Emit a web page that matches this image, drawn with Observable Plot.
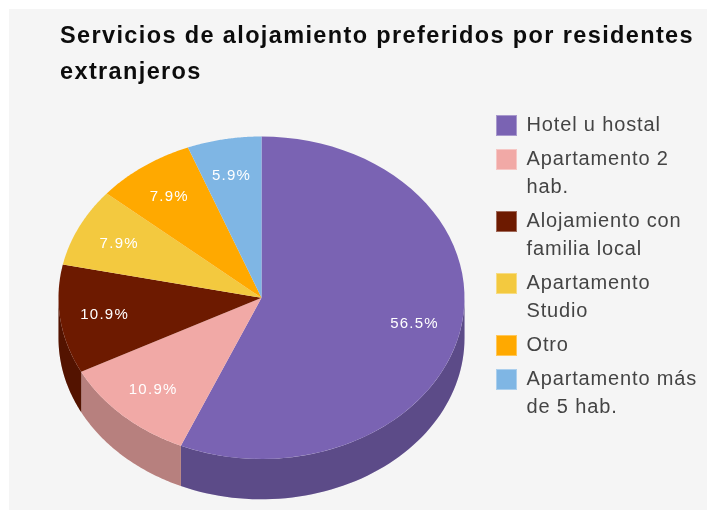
<!DOCTYPE html>
<html><head><meta charset="utf-8">
<script src="https://cdn.jsdelivr.net/npm/d3@7"></script>
<script src="https://cdn.jsdelivr.net/npm/@observablehq/plot@0.6"></script>
<style>
html,body{margin:0;padding:0;background:#fff;}
#wrap{position:relative;width:707px;height:510px;overflow:hidden;}
#panel{position:absolute;left:9px;top:9px;width:698px;height:501px;background:#f5f5f5;}
#chart{position:absolute;left:0;top:0;filter:blur(.35px);}
#chart svg{background:transparent;display:block;}
#chart text{letter-spacing:1.25px;font-weight:normal;}
#title{position:absolute;left:60px;top:17px;width:645px;font:bold 23.5px/36px "Liberation Sans",Arial,sans-serif;color:#0c0c0c;letter-spacing:1.37px;filter:blur(.5px);}
#legend{position:absolute;left:496px;top:110px;width:211px;font:20px/28px "Liberation Sans",Arial,sans-serif;color:#444;letter-spacing:.85px;filter:blur(.5px);}
.it{position:relative;padding-left:30.5px;margin-bottom:6px;}
.sw{position:absolute;left:0;top:5px;width:19px;height:19px;border:1px solid rgba(255,255,255,.35);}
</style></head><body>
<div id="wrap"><div id="panel"></div><div id="chart"></div><div id="title"></div><div id="legend"></div></div>
<script>
const title = "Servicios de alojamiento preferidos por residentes extranjeros";
const categories = ["Hotel u hostal","Apartamento 2 hab.","Alojamiento con familia local","Apartamento Studio","Otro","Apartamento más de 5 hab."];
const legendLabels = [["Hotel u hostal"],["Apartamento 2","hab."],["Alojamiento con","familia local"],["Apartamento","Studio"],["Otro"],["Apartamento más","de 5 hab."]];
const shares = [56.5,10.9,10.9,7.9,7.9,5.9];
const colors = ["#7a63b3","#f1a9a6","#6d1a00","#f3c93f","#ffa900","#7fb6e4"];

const depth = 0.25;          // extrusion in units of the vertical radius
const labelRadius = 0.775;
const pie = d3.pie().sort(null).value((_, i) => shares[i])(categories);
const point = (a, r = 1, drop = 0) => ({x: r * Math.sin(a), y: r * Math.cos(a) - drop});
const samples = (a0, a1) => d3.range(0, 61).map(i => a0 + (a1 - a0) * i / 60);

const topFaces = pie.flatMap(s => [
  {category: s.data, ...point(0, 0)},
  ...samples(s.startAngle, s.endAngle).map(a => ({category: s.data, ...point(a)}))
]);
const sideFaces = pie.flatMap(s => {
  const a0 = Math.max(s.startAngle, Math.PI / 2), a1 = Math.min(s.endAngle, 3 * Math.PI / 2);
  if (a1 <= a0) return [];
  const arc = samples(a0, a1);
  return [...arc.map(a => ({category: s.data, ...point(a)})),
          ...arc.reverse().map(a => ({category: s.data, ...point(a, 1, depth)}))];
});
const labels = pie.map((s, i) => ({
  text: shares[i].toFixed(1) + "%",
  ...point((s.startAngle + s.endAngle) / 2, labelRadius)
}));

const plot = Plot.plot({
  width: 707, height: 510, margin: 0,
  marginLeft: 58, marginRight: 243, marginTop: 136, marginBottom: 51.5,
  x: {domain: [-1, 1], axis: null},
  y: {domain: [-1, 1], axis: null},
  color: {domain: categories, range: colors},
  style: {background: "transparent", overflow: "visible"},
  marks: [
    Plot.line(sideFaces, {x: "x", y: "y", z: "category", fill: "category", stroke: null, curve: "linear-closed"}),
    Plot.line(sideFaces, {x: "x", y: "y", z: "category", fill: "black", fillOpacity: 0.24, stroke: null, curve: "linear-closed"}),
    Plot.line(topFaces, {x: "x", y: "y", z: "category", fill: "category", stroke: null, curve: "linear-closed"}),
    Plot.text(labels, {x: "x", y: "y", text: "text", fill: "white", fontSize: 15, dx: -1, fontFamily: "Liberation Sans, Arial, sans-serif"})
  ]
});
document.getElementById("chart").append(plot);
document.getElementById("title").textContent = title;
const legend = d3.select("#legend");
categories.forEach((c, i) => {
  const it = legend.append("div").attr("class", "it");
  it.append("div").attr("class", "sw").style("background", colors[i]);
  it.html(it.html() + legendLabels[i].join("<br>"));
});
</script></body></html>
